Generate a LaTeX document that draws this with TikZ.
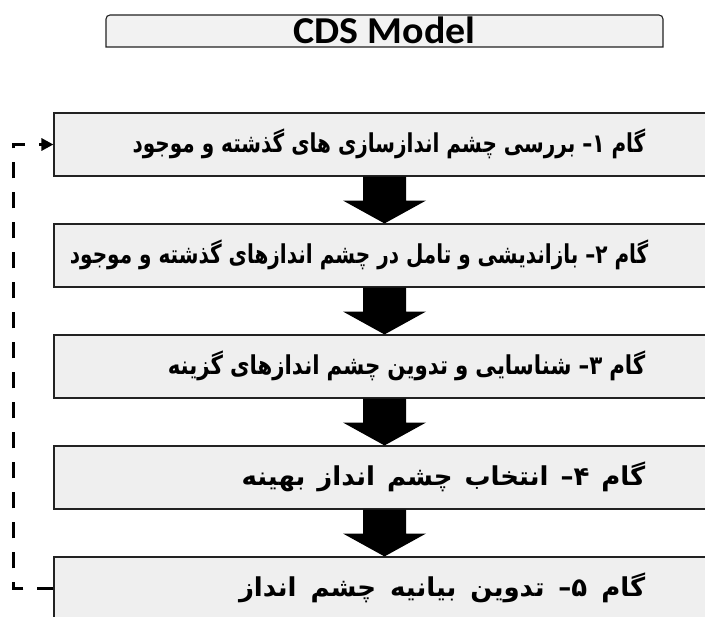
\documentclass[tikz,border=0pt]{standalone}
\usepackage{fontspec}
\usetikzlibrary{calc,arrows.meta,backgrounds}
\TeXXeTstate=1
\newfontfamily\fafont[Script=Arabic,FakeStretch=0.77]{DejaVu Sans}
\newfontfamily\famidfont[Script=Arabic,FakeStretch=0.82]{DejaVu Sans}
\newfontfamily\fawidefont[Script=Arabic,FakeStretch=1.0]{DejaVu Sans}
\newfontfamily\titlefont[FakeStretch=1.05]{Carlito}
\definecolor{boxgray}{HTML}{EFEFEF}
\definecolor{titlegray}{HTML}{F2F2F2}
\definecolor{edge}{HTML}{222222}
\tikzset{
  stepbox/.style={draw=edge, line width=1.1pt, fill=boxgray, minimum width=661pt, minimum height=63pt, inner sep=0pt},
  steptext/.style={font=\fafont\bfseries\fontsize{26}{30}\selectfont, inner sep=0pt, anchor=east},
  midtext/.style={font=\famidfont\bfseries\fontsize{26}{30}\selectfont, inner sep=0pt, anchor=east},
  widetext/.style={font=\fawidefont\bfseries\fontsize{26}{30}\selectfont, inner sep=0pt, anchor=east},
  titlenode/.style={font=\titlefont\bfseries\fontsize{38}{42}\selectfont, inner sep=0pt, anchor=base},
  feedback/.style={line width=3.6pt, dash pattern=on 16pt off 14pt, -{Triangle[length=12pt,width=12pt]}},
  blockarrow/.style={fill=black}
}
\newcommand\flowarrow[2]{%
  \fill[blockarrow] ($(#1.south)+(-21.5,0)$) -- ($(#1.south)+(21.5,0)$) -- ($(#1.south)+(21.5,24)$) -- ($(#1.south)+(41.5,24)$) -- (#2.north) -- ($(#1.south)+(-41.5,24)$) -- ($(#1.south)+(-21.5,24)$) -- cycle;}
\begin{document}
\begin{tikzpicture}[x=1pt,y=-1pt]
\useasboundingbox (0,0) rectangle (705,617);
\clip (0,0) rectangle (705,617);
% title
\draw[draw=edge, line width=1.1pt, fill=titlegray] (106,47) [rounded corners=4pt] -- (106,15) -- (663,15) [sharp corners] -- (663,47) -- cycle;
\node[titlenode] (title) at (384.5,43.3) {CDS Model};
% steps
\node[stepbox] (b1) at (384.5,144.5) {};
\node[stepbox] (b2) at (384.5,255.5) {};
\node[stepbox] (b3) at (384.5,366.5) {};
\node[stepbox] (b4) at (384.5,477.5) {};
\node[stepbox] (b5) at (384.5,588.5) {};
\node[steptext] (t1) at ($(b1.east)+(-70,-1)$) {\beginR گام ۱– بررسی چشم اندازسازی های گذشته و موجود\endR};
\node[steptext] (t2) at ($(b2.east)+(-67,-1)$) {\beginR گام ۲– بازاندیشی و تامل در چشم اندازهای گذشته و موجود\endR};
\node[midtext] (t3) at ($(b3.east)+(-70,-1)$) {\spaceskip=7pt\beginR گام ۳– شناسایی و تدوین چشم اندازهای گزینه\endR};
\node[widetext] (t4) at ($(b4.east)+(-70,-1)$) {\spaceskip=12pt\beginR گام ۴– انتخاب چشم انداز بهینه\endR};
\node[widetext] (t5) at ($(b5.east)+(-70,-1)$) {\spaceskip=14pt\beginR گام ۵– تدوین بیانیه چشم انداز\endR};
% arrows
\flowarrow{b1}{b2}
\flowarrow{b2}{b3}
\flowarrow{b3}{b4}
\flowarrow{b4}{b5}
% feedback
\draw[feedback] (b5.west) -- ++(-40,0) |- (b1.west);
\end{tikzpicture}
\end{document}
